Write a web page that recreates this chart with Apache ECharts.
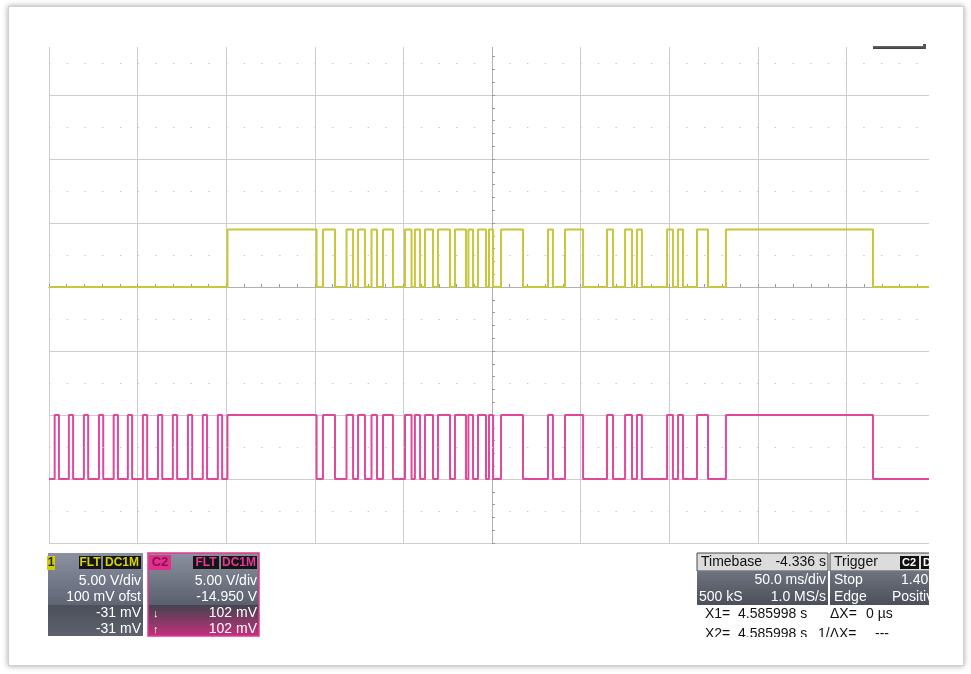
<!DOCTYPE html>
<html>
<head>
<meta charset="utf-8">
<script src="https://cdn.jsdelivr.net/npm/echarts@6/dist/echarts.min.js"></script>
<style>
  html, body { margin: 0; padding: 0; background: #ffffff; }
  #frame { position: absolute; left: 8px; top: 6px; width: 954px; height: 658px;
           border: 1px solid #cfcfcf; box-shadow: 0 0 6px rgba(0,0,0,0.35); background: #fff; }
  #c { position: absolute; left: 0; top: 0; width: 971px; height: 674px; }
</style>
</head>
<body>
<div id="frame"></div>
<div id="c"></div>
<script>
// Time axis in ms relative to the trigger point (50 ms/div), vertical axis in divisions.
const timeRange = [-250, 250];

// Channel 1 (yellow): starts low, toggles at each edge time (ms)
const ch1Edges = [
  -149.3, -99.0, -95.4, -88.6, -82.1, -78.4, -75.6, -71.7, -68.0, -64.9,
  -61.5, -55.9, -49.1, -45.4, -43.5, -40.6, -37.8, -33.3, -30.5, -23.7,
  -20.9, -14.7, -13.3, -10.7, -7.9, -3.4, -1.7, 0.6, 5.1, 17.5,
  31.6, 34.4, 41.2, 51.4, 64.9, 68.3, 75.1, 79.0, 81.8, 84.6,
  98.8, 102.1, 105.0, 107.8, 115.7, 121.9, 132.0, 215.0
];

// Channel 2 (pink): clock-like preamble, then the same frame as channel 1
const ch2PreambleEdges = [
  -246.8, -244.4, -238.8, -236.4, -230.3, -227.9, -221.8, -219.4,
  -213.5, -211.1, -205.5, -203.1, -197.0, -194.6, -188.5, -186.1,
  -180.1, -177.7, -171.6, -169.2, -163.2, -160.8, -154.7, -152.3
];
const ch2Edges = ch2PreambleEdges.concat(ch1Edges);

// Logic levels in divisions [low, high]
const ch1Levels = [0, 0.9];
const ch2Levels = [-3, -2];

function toSteps(edges, levels) {
  let state = 0;
  const pts = [[timeRange[0], levels[state]]];
  edges.forEach(t => { state = 1 - state; pts.push([t, levels[state]]); });
  pts.push([timeRange[1], levels[state]]);
  return pts;
}

const chart = echarts.init(document.getElementById('c'), null, { renderer: 'canvas' });

const gridColor = '#cdcdcd';
const tickColor = '#9a9a9a';
const FONT = '"Liberation Sans", Arial, sans-serif';

function axisCommon(inside, withSplit, splitColors) {
  return {
    type: 'value',
    axisLine: { show: true, onZero: true, lineStyle: { color: '#b0b0b0', width: 1 } },
    axisTick: { show: true, inside: inside, length: 3, lineStyle: { color: tickColor } },
    minorTick: { show: true, splitNumber: 5, length: 3, lineStyle: { color: tickColor } },
    axisLabel: { show: false },
    splitLine: { show: withSplit, lineStyle: { color: splitColors, width: 1 } }
  };
}

const xSplit = [];
for (let i = 0; i < 10; i++) xSplit.push(gridColor);
xSplit.push('rgba(0,0,0,0)');
const ySplit = [];
for (let i = 0; i < 8; i++) ySplit.push(gridColor);
ySplit.push('rgba(0,0,0,0)');

// dotted rows halfway between the horizontal divisions
const halfRows = [];
for (let v = -3.5; v <= 3.5; v += 1) halfRows.push({ yAxis: v });

function txt(x, y, s, fill, align, size, weight) {
  return {
    type: 'text', x: x, y: y, z: 100,
    style: {
      text: s, fill: fill, font: (weight || 'normal') + ' ' + (size || 14) + 'px ' + FONT,
      align: align || 'left', verticalAlign: 'middle',
      textAlign: align || 'left', textVerticalAlign: 'middle'
    }
  };
}
function rect(x, y, w, h, fill, stroke, lw) {
  return {
    type: 'rect', z: 100,
    shape: { x: x, y: y, width: w, height: h },
    style: { fill: fill, stroke: stroke || null, lineWidth: lw || 0 }
  };
}
function vgrad(c0, c1) {
  return new echarts.graphic.LinearGradient(0, 0, 0, 1, [{ offset: 0, color: c0 }, { offset: 1, color: c1 }]);
}

const yellowTxt = '#d6d400';
const pinkTxt = '#e8389a';

const graphics = [
  // trim the display to the visible screen area
  rect(30, 18, 915, 29, '#ffffff'),
  rect(929, 18, 30, 630, '#ffffff'),

  // channel 1 descriptor
  rect(48, 553, 95, 52, vgrad('#8b91a0', '#5f6574')),
  rect(48, 605, 95, 31, vgrad('#4c505b', '#5e626d')),
  rect(47, 556, 8, 14, '#cfcd00'),
  txt(51, 563, '1', '#222', 'center', 12, 'bold'),
  rect(79, 556, 22, 13, '#151515'),
  txt(90, 563, 'FLT', yellowTxt, 'center', 12, 'bold'),
  rect(103, 556, 38, 13, '#151515'),
  txt(122, 563, 'DC1M', yellowTxt, 'center', 12, 'bold'),
  txt(141, 581, '5.00 V/div', '#ffffff', 'right'),
  txt(141, 597, '100 mV ofst', '#ffffff', 'right'),
  txt(141, 613, '-31 mV', '#ffffff', 'right'),
  txt(141, 629, '-31 mV', '#ffffff', 'right'),

  // channel 2 descriptor
  rect(148, 553, 111, 52, vgrad('#8b91a0', '#5a5f6d')),
  rect(148, 605, 111, 31, vgrad('#44444f', '#c2307c')),
  rect(148, 553, 111, 83, 'rgba(0,0,0,0)', '#e0388a', 1.5),
  rect(149, 555, 22, 15, '#e0308a'),
  txt(160, 562, 'C2', '#8a1050', 'center', 13, 'bold'),
  rect(193, 556, 26, 13, '#151515'),
  txt(206, 563, 'FLT', pinkTxt, 'center', 12, 'bold'),
  rect(221, 556, 36, 13, '#151515'),
  txt(239, 563, 'DC1M', pinkTxt, 'center', 12, 'bold'),
  txt(257, 581, '5.00 V/div', '#ffffff', 'right'),
  txt(257, 597, '-14.950 V', '#ffffff', 'right'),
  txt(153, 614, '\u2193', '#ffffff', 'left', 11),
  txt(257, 613, '102 mV', '#ffffff', 'right'),
  txt(153, 630, '\u2191', '#ffffff', 'left', 11),
  txt(257, 629, '102 mV', '#ffffff', 'right'),

  // timebase descriptor
  rect(697, 553, 131, 18, '#dcdcdc', '#4a4a4a', 1),
  rect(697, 571, 131, 34, vgrad('#6e7480', '#4b4f59')),
  txt(701, 562, 'Timebase', '#111', 'left'),
  txt(826, 562, '-4.336 s', '#111', 'right'),
  txt(826, 580, '50.0 ms/div', '#ffffff', 'right'),
  txt(699, 597, '500 kS', '#ffffff', 'left'),
  txt(826, 597, '1.0 MS/s', '#ffffff', 'right'),

  // trigger descriptor (runs past the screen edge)
  rect(830, 553, 110, 18, '#dcdcdc', '#4a4a4a', 1),
  rect(830, 571, 110, 34, vgrad('#6e7480', '#4b4f59')),
  txt(834, 562, 'Trigger', '#111', 'left'),
  rect(900, 556, 19, 13, '#111111'),
  txt(909, 563, 'C2', '#ffffff', 'center', 11, 'bold'),
  rect(921, 556, 14, 13, '#111111'),
  txt(923, 563, 'D', '#ffffff', 'left', 11, 'bold'),
  txt(834, 580, 'Stop', '#ffffff', 'left'),
  txt(901, 580, '1.40 V', '#ffffff', 'left'),
  txt(834, 597, 'Edge', '#ffffff', 'left'),
  txt(892, 597, 'Positive', '#ffffff', 'left'),

  // cursor readouts
  txt(705, 614, 'X1=', '#111', 'left', 14),
  txt(738, 614, '4.585998 s', '#111', 'left', 14),
  txt(830, 614, '\u0394X=', '#111', 'left', 14),
  txt(866, 614, '0 \u00b5s', '#111', 'left', 14),
  txt(705, 634, 'X2=', '#111', 'left', 14),
  txt(738, 634, '4.585998 s', '#111', 'left', 14),
  txt(818, 634, '1/\u0394X=', '#111', 'left', 14),
  txt(875, 634, '---', '#111', 'left', 14),
  rect(690, 637, 250, 25, '#ffffff'),
  rect(929, 540, 30, 110, '#ffffff'),

  // partially hidden status label at the top right
  rect(873, 46, 52, 3, vgrad('#6a6a6a', '#3a3a3a')),
  rect(923, 44, 3, 5, '#555555')
];

const option = {
  animation: false,
  backgroundColor: 'transparent',
  grid: { left: 49, top: 31, width: 886, height: 512, containLabel: false },
  xAxis: [
    Object.assign(axisCommon(true, true, xSplit), { min: timeRange[0], max: timeRange[1], interval: 50 }),
    Object.assign(axisCommon(false, false, xSplit), { min: timeRange[0], max: timeRange[1], interval: 50 })
  ],
  yAxis: [
    Object.assign(axisCommon(true, true, ySplit), { min: -4, max: 4, interval: 1 }),
    Object.assign(axisCommon(false, false, ySplit), { min: -4, max: 4, interval: 1 })
  ],
  series: [
    {
      type: 'line', name: 'grid dots', data: [], silent: true, z: 1,
      markLine: {
        silent: true, symbol: 'none', label: { show: false },
        lineStyle: { color: '#cacaca', width: 1.2, type: [1.5, 16.2] },
        data: halfRows
      }
    },
    {
      type: 'line', name: 'C1', step: 'end', showSymbol: false, z: 3,
      data: toSteps(ch1Edges, ch1Levels),
      lineStyle: { color: '#c8c63a', width: 2 }
    },
    {
      type: 'line', name: 'C2', step: 'end', showSymbol: false, z: 3,
      data: toSteps(ch2Edges, ch2Levels),
      lineStyle: { color: '#e0489a', width: 2 }
    }
  ],
  graphic: { elements: graphics }
};

chart.setOption(option);
</script>
</body>
</html>
